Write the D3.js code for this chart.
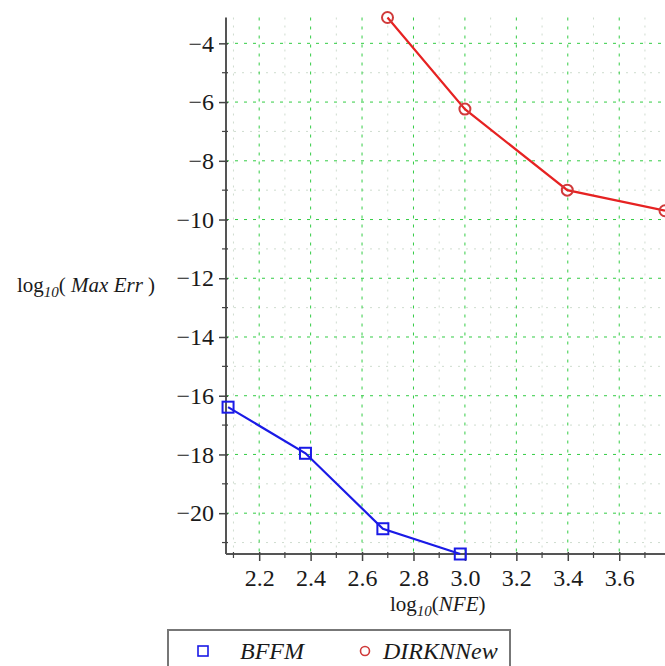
<!DOCTYPE html>
<html>
<head>
<meta charset="utf-8">
<script src="https://cdn.jsdelivr.net/npm/d3@7"></script>
<style>
  html, body { margin: 0; padding: 0; background: #fff; }
  svg { display: block; }
</style>
</head>
<body>
<script>
// ---- data (log10 values) ----
const seriesNames = ["BFFM", "DIRKNNew"];
const bffmX = [2.079, 2.380, 2.681, 2.982];
const bffmY = [-16.39, -17.96, -20.53, -21.39];
const dirkX = [2.699, 3.000, 3.398, 3.778];
const dirkY = [-3.12, -6.24, -9.00, -9.70];
const xTicks = [2.2, 2.4, 2.6, 2.8, 3.0, 3.2, 3.4, 3.6];
const yTicks = [-4, -6, -8, -10, -12, -14, -16, -18, -20];
const xMinor = [2.1, 2.3, 2.5, 2.7, 2.9, 3.1, 3.3, 3.5, 3.7];
const yMinor = [-5, -7, -9, -11, -13, -15, -17, -19, -21];

const SERIF = "'Liberation Serif', 'Times New Roman', serif";
const W = 665, H = 666;
const svg = d3.select("body").append("svg").attr("width", W).attr("height", H);

const x = d3.scaleLinear().domain([2.071, 3.778]).range([226, 665]);
const y = d3.scaleLinear().domain([-21.39, -3.12]).range([554, 17.5]);

const xMin = x.range()[0], xMax = x.range()[1];
const yTop = y.range()[1], yBot = y.range()[0];

// ---- grid ----
const grid = svg.append("g");
grid.selectAll(".vminor").data(xMinor).join("line")
  .attr("x1", d => x(d)).attr("x2", d => x(d)).attr("y1", yTop).attr("y2", yBot)
  .attr("stroke", "#cfdccf").attr("stroke-width", 1).attr("stroke-dasharray", "2,6");
grid.selectAll(".hminor").data(yMinor).join("line")
  .attr("y1", d => y(d)).attr("y2", d => y(d)).attr("x1", xMin).attr("x2", xMax)
  .attr("stroke", "#cfdccf").attr("stroke-width", 1).attr("stroke-dasharray", "2,6");
grid.selectAll(".vmajor").data(xTicks).join("line")
  .attr("x1", d => x(d)).attr("x2", d => x(d)).attr("y1", yTop).attr("y2", yBot)
  .attr("stroke", "#33cc44").attr("stroke-width", 1).attr("stroke-dasharray", "3,6");
grid.selectAll(".hmajor").data(yTicks).join("line")
  .attr("y1", d => y(d)).attr("y2", d => y(d)).attr("x1", xMin).attr("x2", xMax)
  .attr("stroke", "#33cc44").attr("stroke-width", 1).attr("stroke-dasharray", "3,6");

// ---- axes ----
const fmtY = d => (d < 0 ? "\u2212" : "") + Math.abs(d);
const axY = svg.append("g").attr("transform", `translate(${xMin},0)`)
  .call(d3.axisLeft(y).tickValues(yTicks).tickFormat(fmtY).tickSize(7).tickPadding(5));
axY.select(".domain").attr("stroke", "#555").attr("stroke-width", 2)
  .attr("d", `M0,${yTop}V${yBot}`);
axY.selectAll(".tick line").attr("stroke", "#444").attr("stroke-width", 1.5).attr("x2", -7).attr("x1", 2);
axY.selectAll(".tick text").style("font-family", SERIF).style("font-size", "24px").attr("fill", "#1a1a1a");
svg.append("g").selectAll("line").data(yMinor).join("line")
  .attr("x1", xMin - 4).attr("x2", xMin + 2).attr("y1", d => y(d)).attr("y2", d => y(d))
  .attr("stroke", "#444").attr("stroke-width", 1.2);

const axX = svg.append("g").attr("transform", `translate(0,${yBot})`)
  .call(d3.axisBottom(x).tickValues(xTicks).tickFormat(d3.format(".1f")).tickSize(7).tickPadding(8));
axX.select(".domain").attr("stroke", "#555").attr("stroke-width", 2)
  .attr("d", `M${xMin},0H${xMax}`);
axX.selectAll(".tick line").attr("stroke", "#444").attr("stroke-width", 1.5).attr("y1", -2);
axX.selectAll(".tick text").style("font-family", SERIF).style("font-size", "24px").attr("fill", "#1a1a1a");
svg.append("g").selectAll("line").data(xMinor).join("line")
  .attr("x1", d => x(d)).attr("x2", d => x(d)).attr("y1", yBot - 2).attr("y2", yBot + 4)
  .attr("stroke", "#444").attr("stroke-width", 1.2);

// ---- axis titles ----
const yl = svg.append("text").attr("x", 17).attr("y", 292).style("font-family", SERIF)
  .style("font-size", "21px").attr("fill", "#1a1a1a");
yl.append("tspan").text("log");
yl.append("tspan").style("font-size", "15px").attr("font-style", "italic").attr("dy", 5).text("10");
yl.append("tspan").attr("dy", -5).text("( ");
yl.append("tspan").attr("font-style", "italic").text("Max Err");
yl.append("tspan").text(" )");

const xl = svg.append("text").attr("x", 390).attr("y", 611).style("font-family", SERIF)
  .style("font-size", "21px").attr("fill", "#1a1a1a");
xl.append("tspan").text("log");
xl.append("tspan").style("font-size", "15px").attr("font-style", "italic").attr("dy", 5).text("10");
xl.append("tspan").attr("dy", -5).text("(");
xl.append("tspan").attr("font-style", "italic").text("NFE");
xl.append("tspan").text(")");

// ---- series ----
const line = d3.line().x(d => x(d[0])).y(d => y(d[1]));
const bffm = bffmX.map((v, i) => [v, bffmY[i]]);
const dirk = dirkX.map((v, i) => [v, dirkY[i]]);
const blue = "#1a1ae6", red = "#e62222";

svg.append("path").datum(bffm).attr("d", line).attr("fill", "none")
  .attr("stroke", blue).attr("stroke-width", 2.2);
svg.append("g").selectAll("rect").data(bffm).join("rect")
  .attr("x", d => x(d[0]) - 5.5).attr("y", d => y(d[1]) - 5.5)
  .attr("width", 11).attr("height", 11).attr("fill", "none")
  .attr("stroke", blue).attr("stroke-width", 2);

svg.append("path").datum(dirk).attr("d", line).attr("fill", "none")
  .attr("stroke", red).attr("stroke-width", 2.2);
svg.append("g").selectAll("circle").data(dirk).join("circle")
  .attr("cx", d => x(d[0])).attr("cy", d => y(d[1])).attr("r", 5.5)
  .attr("fill", "none").attr("stroke", "#d03a3a").attr("stroke-width", 2);

// ---- legend ----
const lg = svg.append("g");
lg.append("rect").attr("x", 168).attr("y", 630).attr("width", 342).attr("height", 50)
  .attr("fill", "#fff").attr("stroke", "#777").attr("stroke-width", 2);
lg.append("rect").attr("x", 198).attr("y", 646).attr("width", 10).attr("height", 10)
  .attr("fill", "none").attr("stroke", blue).attr("stroke-width", 1.6);
lg.append("text").attr("x", 240).attr("y", 659).style("font-family", SERIF).style("font-size", "24px")
  .attr("font-style", "italic").attr("fill", "#1a1a1a").text(seriesNames[0]);
lg.append("circle").attr("cx", 365).attr("cy", 651).attr("r", 4.5)
  .attr("fill", "none").attr("stroke", "#d03a3a").attr("stroke-width", 1.6);
lg.append("text").attr("x", 383).attr("y", 659).style("font-family", SERIF).style("font-size", "24px")
  .attr("font-style", "italic").attr("fill", "#1a1a1a").text(seriesNames[1]);
</script>
</body>
</html>
